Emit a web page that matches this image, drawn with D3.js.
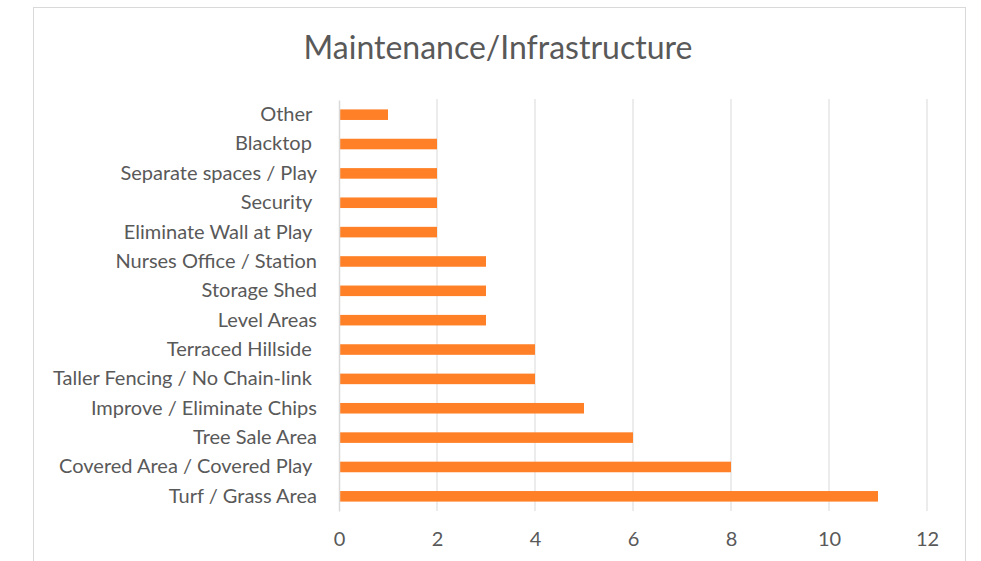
<!DOCTYPE html>
<html>
<head>
<meta charset="utf-8">
<script src="https://cdn.jsdelivr.net/npm/d3@7"></script>
<style>
  body { margin: 0; background: #fff; }
  text { font-family: Lato, "Open Sans", sans-serif; fill: #595959; }
</style>
</head>
<body>
<div id="chart"></div>
<script>
// categories top to bottom, as in the picture
var categories = ["Other ", "Blacktop ", "Separate spaces / Play", "Security ", "Eliminate Wall at Play ",
  "Nurses Office / Station", "Storage Shed", "Level Areas", "Terraced Hillside ",
  "Taller Fencing / No Chain-link ", "Improve / Eliminate Chips", "Tree Sale Area",
  "Covered Area / Covered Play ", "Turf / Grass Area"];
var counts = [1, 2, 2, 2, 2, 3, 3, 3, 4, 4, 5, 6, 8, 11];
var xTicks = [0, 2, 4, 6, 8, 10, 12];
var chartTitle = "Maintenance/Infrastructure";

var width = 981, height = 561;
var margin = {top: 100, right: 54, bottom: 50, left: 339};

var svg = d3.select("#chart").append("svg")
  .attr("width", width)
  .attr("height", height);

// chart frame
svg.append("rect")
  .attr("x", 33.5).attr("y", 7.5)
  .attr("width", 932).attr("height", 600)
  .attr("fill", "#fff")
  .attr("stroke", "#d9d9d9");

svg.append("text")
  .attr("x", 498).attr("y", 59)
  .attr("text-anchor", "middle")
  .style("font-size", "32px")
  .text(chartTitle);

var x = d3.scaleLinear().domain([0, 12]).range([margin.left, width - margin.right]);
var y = d3.scaleBand().domain(categories)
  .range([margin.top, height - margin.bottom])
  .paddingInner(0.64).paddingOuter(0.32);

// gridlines
svg.append("g").selectAll("line")
  .data(xTicks.slice(1))
  .enter().append("line")
  .attr("x1", function(d) { return x(d); })
  .attr("x2", function(d) { return x(d); })
  .attr("y1", margin.top - 1)
  .attr("y2", height - margin.bottom)
  .attr("stroke", "#d9d9d9")
  .attr("stroke-width", 1);

svg.append("g").selectAll("rect")
  .data(counts)
  .enter().append("rect")
  .attr("x", x(0))
  .attr("y", function(d, i) { return y(categories[i]); })
  .attr("width", function(d) { return x(d) - x(0); })
  .attr("height", y.bandwidth())
  .attr("fill", "#ff8026");

// category axis
var yAxis = svg.append("g")
  .attr("transform", "translate(" + x(0) + ",0)")
  .call(d3.axisLeft(y).tickSize(0).tickPadding(22));
yAxis.select(".domain").attr("stroke", "#d9d9d9").attr("stroke-width", 1.5);
yAxis.selectAll("text")
  .style("font-size", "20px")
  .style("white-space", "pre")
  .attr("fill", "#595959");

// value axis
var xAxis = svg.append("g")
  .attr("transform", "translate(0," + (height - margin.bottom) + ")")
  .call(d3.axisBottom(x).tickValues(xTicks).tickSize(0).tickPadding(21));
xAxis.select(".domain").remove();
xAxis.selectAll("text")
  .style("font-size", "20px")
  .attr("fill", "#595959");
</script>
</body>
</html>
